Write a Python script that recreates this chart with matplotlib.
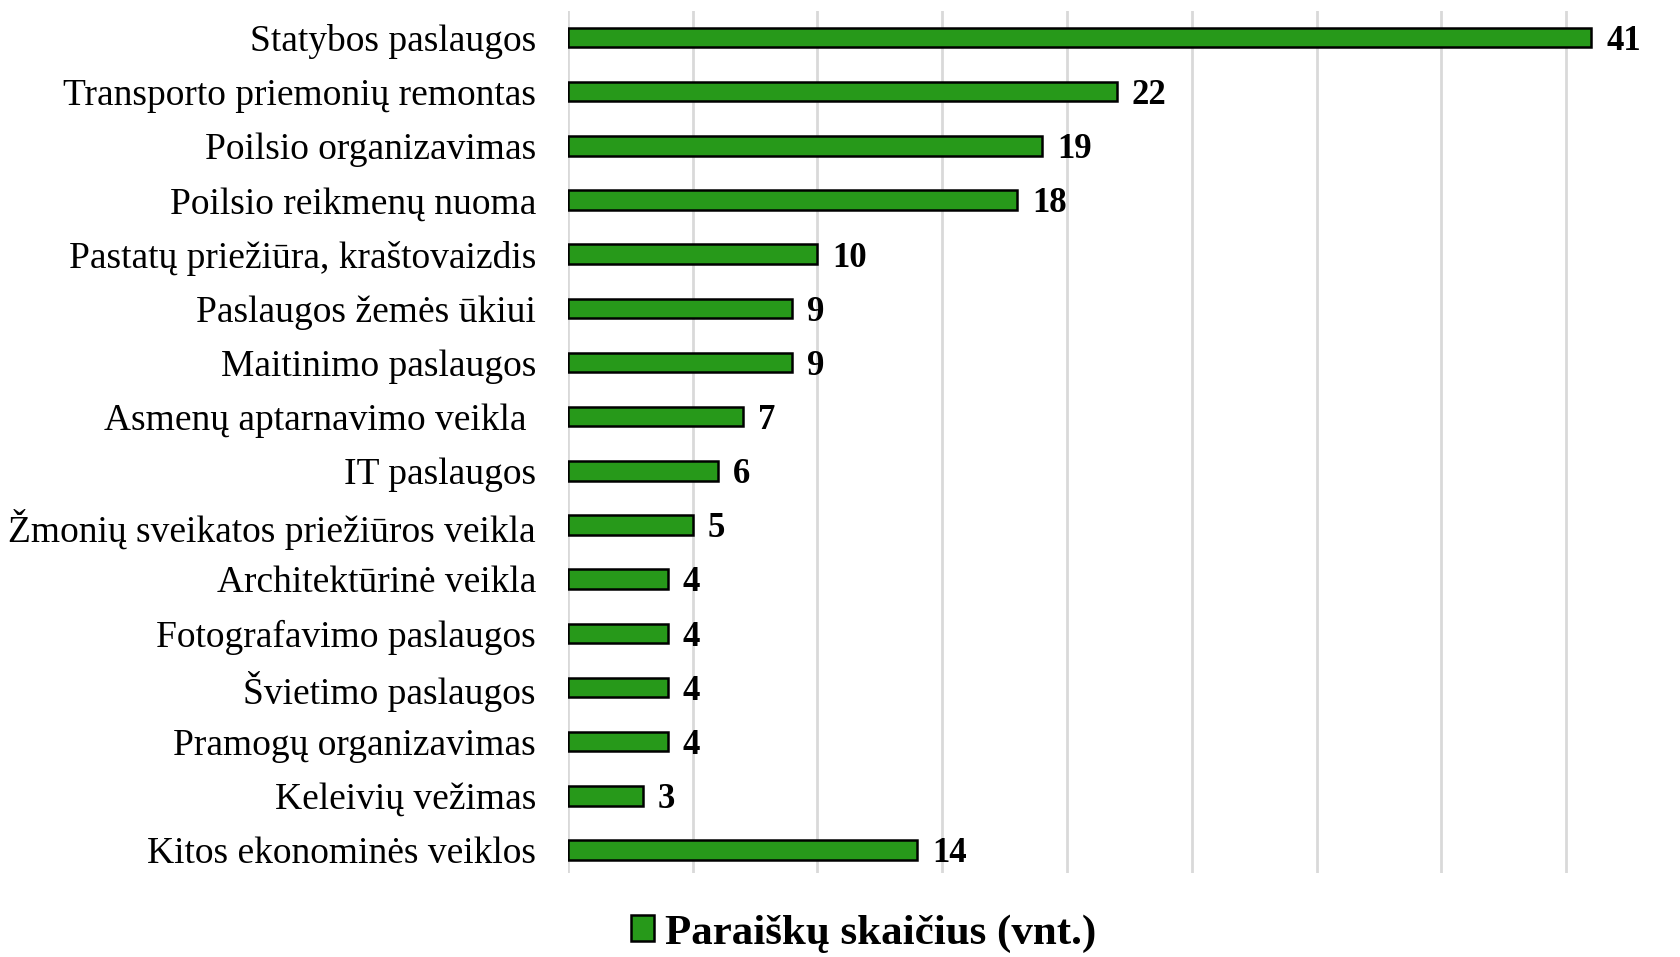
import matplotlib.pyplot as plt
import numpy as np

plt.rcParams['font.family'] = ['Liberation Serif', 'DejaVu Serif']

categories = ['Statybos paslaugos', 'Transporto priemonių remontas', 'Poilsio organizavimas',
              'Poilsio reikmenų nuoma', 'Pastatų priežiūra, kraštovaizdis', 'Paslaugos žemės ūkiui',
              'Maitinimo paslaugos', 'Asmenų aptarnavimo veikla ', 'IT paslaugos',
              'Žmonių sveikatos priežiūros veikla', 'Architektūrinė veikla', 'Fotografavimo paslaugos',
              'Švietimo paslaugos', 'Pramogų organizavimas', 'Keleivių vežimas', 'Kitos ekonominės veiklos']
values = [41, 22, 19, 18, 10, 9, 9, 7, 6, 5, 4, 4, 4, 4, 3, 14]
series_name = 'Paraiškų skaičius (vnt.)'

fig = plt.figure(figsize=(16.8, 9.57), dpi=100)
ax = fig.add_axes([0.338, 0.088, 0.624, 0.9005])

y = np.arange(len(categories))
bars = ax.barh(y, values, height=0.36, color='#27991a', edgecolor='black', linewidth=1.8,
               label=series_name, zorder=3)

for yi, v in zip(y, values):
    ax.text(v + 0.6, yi + 0.07, str(v), va='center', ha='left', fontsize=25, fontweight='bold', zorder=4)

ax.set_xlim(0, 42)
ax.set_ylim(15.42, -0.49)
ax.set_xticks(np.arange(0, 41, 5))
ax.set_xticklabels([])
ax.tick_params(axis='x', length=0)
ax.tick_params(axis='y', length=0, pad=23, labelsize=27)
ax.set_yticks(y)
ax.set_yticklabels(categories)
ax.grid(axis='x', color='#d9d9d9', linewidth=2, zorder=0)
for s in ax.spines.values():
    s.set_visible(False)

fig.legend(handles=[bars], labels=[series_name], loc='lower center', bbox_to_anchor=(0.514, -0.036),
           frameon=False, handlelength=0.55, handleheight=0.55, handletextpad=0.25,
           prop={'size': 31, 'weight': 'bold'})

fig.savefig('out.png', dpi=100)
